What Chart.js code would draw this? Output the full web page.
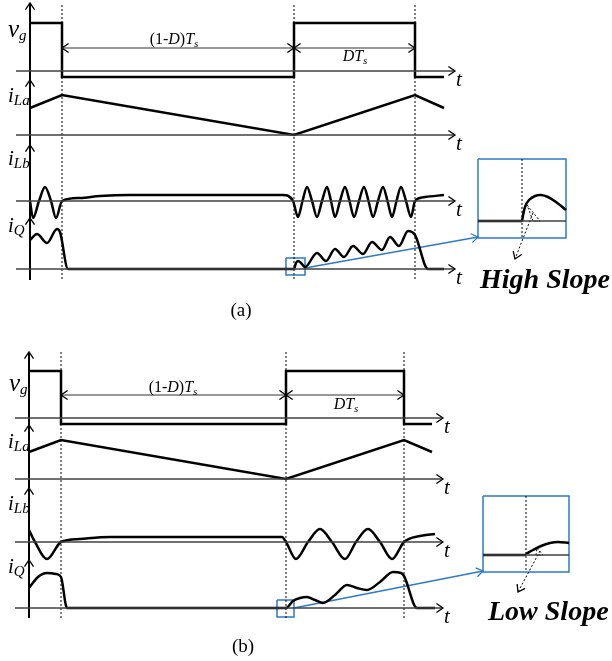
<!DOCTYPE html>
<html>
<head>
<meta charset="utf-8">
<script src="https://cdn.jsdelivr.net/npm/chart.js@4"></script>
<style>
  html, body { margin: 0; padding: 0; background: #fff; }
  #fig { display: block; }
</style>
</head>
<body>
<canvas id="fig" width="612" height="661"></canvas>
<script>
// all points are [t, level] in figure units (x right, y down)

// panel (a) - high slope
const vgA  = [[30,23],[62,23],[62,77],[294,77],[294,23],[415,23],[415,77],[444,77]];
const iLaA = [[30,108],[62,95],[294,135],[415,95],[444,108]];
const iLbA = [[30,201],[33,218],[39,201],[45,187],[51,201],[56,218],[62,201],[80,198],[100,196],[130,195],[283,195],[293,201],
  [298,217],[302.5,201],[307,187],[312,201],[317,217],[322,201],[327,187],[331,201],[335,217],[340,201],[345,187],[349.5,201],
  [354,217],[359,201],[364,187],[368.5,201],[373,217],[378,201],[383,187],[387.5,201],[392,217],[396.5,201],[401,187],[406,201],
  [411,217],[415,201],[425,197],[444,195]];
const iQA  = [[30,240],[37,234],[47,243],[57,229],[60,232],[68,269],[294,269],[296,263],[298,261],[301,263],[305,267],
  [317,253],[326,261],[335,249],[344,257],[353,246],[363,254],[372,242],[382,250],[390,237],[399,246],[408,231],[415,235],[428,269],[444,269]];

// panel (b) - low slope
const vgB  = [[29,371],[61,371],[61,424],[286,424],[286,371],[404,371],[404,424],[432,424]];
const iLaB = [[29,452],[61,440],[286,479],[404,440],[432,452]];
const iLbB = [[29,530],[35,542],[47,559],[61,542],[80,539],[110,537],[282,537],[286,542],[296,559],[308,542],[320,529],[332,542],
  [345,559],[356,542],[368,529],[380,542],[392,559],[404,542],[420,536],[435,534]];
const iQB  = [[29,588],[38,577],[47,573],[56,574],[61,577],[67,608],[286,608],[293,601],[300,598],[307,597],[315,600],[323,603],
  [335,595],[347,585],[357,588],[367,590],[380,582],[393,572],[401,573],[404,576],[417,608],[435,608]];

// zoomed insets
const zoomA = [[522,221],[525,207],[529,200],[535,196],[541,195],[548,197],[556,202],[566,210]];
const zoomB = [[526,554],[533,550],[541,546],[550,543],[558,542],[569,543]];

// axes: baselines and switching instants
const baseA = [71, 135, 201, 269];
const baseB = [418, 479, 542, 608];
const swA = [62, 294, 415];
const swB = [61, 286, 404];

const serif = '"Liberation Serif", "Times New Roman", serif';
const blue = '#2b7bc9';

function line(pts, color, width, extra) {
  return Object.assign({
    data: pts.map(p => ({ x: p[0], y: p[1] })),
    showLine: true, borderColor: color, borderWidth: width,
    pointRadius: 0, fill: false
  }, extra || {});
}

const sets = [];
// horizontal axes
baseA.forEach(y => sets.push(line([[16,y],[455,y]], '#404040', 1.5)));
baseB.forEach(y => sets.push(line([[15,y],[443,y]], '#404040', 1.5)));
// vertical axes
sets.push(line([[30,280],[30,3]], '#000', 2));
sets.push(line([[29,618],[29,352]], '#000', 2));
// switching instants
swA.forEach(x => sets.push(line([[x,5],[x,280]], '#000', 1, { borderDash: [2,2] })));
swB.forEach(x => sets.push(line([[x,352],[x,618]], '#000', 1, { borderDash: [2,2] })));
// dimension lines
sets.push(line([[swA[0],48],[swA[2],48]], '#333', 1.2));
sets.push(line([[swB[0],395],[swB[2],395]], '#333', 1.2));
// waveforms
const wave = { cubicInterpolationMode: 'monotone' };
sets.push(line(vgA, '#000', 2.5));
sets.push(line(iLaA, '#000', 2.5));
sets.push(line(iLbA, '#000', 2.5, wave));
sets.push(line(iQA, '#000', 2.5, wave));
sets.push(line(vgB, '#000', 2.5));
sets.push(line(iLaB, '#000', 2.5));
sets.push(line(iLbB, '#000', 2.5, wave));
sets.push(line(iQB, '#000', 2.5, wave));
// small boxes + leader lines
sets.push(line([[286,258],[305,258],[305,275],[286,275],[286,258]], blue, 1.5));
sets.push(line([[305,268],[478,237]], blue, 1.5));
sets.push(line([[277,600],[294,600],[294,617],[277,617],[277,600]], blue, 1.5));
sets.push(line([[294,608],[483,571]], blue, 1.5));
// inset (a)
sets.push(line([[478,221],[566,221]], '#404040', 1.5));
sets.push(line([[478,221],[522,221]], '#000', 2.5));
sets.push(line([[522,159],[522,238]], '#000', 1, { borderDash: [2,2] }));
sets.push(line(zoomA, '#000', 2.5, { tension: 0.4 }));
sets.push(line([[527,205],[540,221],[533,221],[527,205]], '#000', 1, { borderDash: [2,2] }));
sets.push(line([[533,213],[515,259]], '#000', 1, { borderDash: [2,2] }));
sets.push(line([[478,159],[566,159],[566,238],[478,238],[478,159]], blue, 1.5));
// inset (b)
sets.push(line([[483,555],[569,555]], '#404040', 1.5));
sets.push(line([[483,555],[526,555]], '#000', 2.5));
sets.push(line([[526,496],[526,572]], '#000', 1, { borderDash: [2,2] }));
sets.push(line(zoomB, '#000', 2.5, wave));
sets.push(line([[537,548],[543,555],[536,555],[537,548]], '#000', 1, { borderDash: [2,2] }));
sets.push(line([[540,551],[518,592]], '#000', 1, { borderDash: [2,2] }));
sets.push(line([[483,496],[569,496],[569,572],[483,572],[483,496]], blue, 1.5));

// arrowheads: [fromX, fromY, tipX, tipY, color]
const heads = [];
baseA.forEach(y => heads.push([440, y, 455, y, '#000']));
baseB.forEach(y => heads.push([428, y, 443, y, '#000']));
[3, 80, 145, 218].forEach(y => heads.push([30, y + 15, 30, y, '#000']));
[352, 425, 488, 560].forEach(y => heads.push([29, y + 15, 29, y, '#000']));
heads.push([200, 48, swA[0], 48, '#000'], [200, 48, swA[1], 48, '#000'], [350, 48, swA[1], 48, '#000'], [350, 48, swA[2], 48, '#000']);
heads.push([200, 395, swB[0], 395, '#000'], [200, 395, swB[1], 395, '#000'], [350, 395, swB[1], 395, '#000'], [350, 395, swB[2], 395, '#000']);
heads.push([305, 268, 478, 237, blue], [294, 608, 483, 571, blue]);
heads.push([533, 213, 515, 259, '#000'], [540, 551, 518, 592, '#000']);

// text: [x, y, align, parts[text, style, size, dy]]
const texts = [
  [8, 37, 'left', [['v','italic',25,0],['g','italic',15,3]]],
  [8, 102, 'left', [['i','italic',21,0],['La','italic',15,3]]],
  [8, 165, 'left', [['i','italic',21,0],['Lb','italic',15,3]]],
  [8, 232, 'left', [['i','italic',21,0],['Q','italic',15,3]]],
  [9, 391, 'left', [['v','italic',25,0],['g','italic',15,3]]],
  [8, 448, 'left', [['i','italic',21,0],['La','italic',15,3]]],
  [8, 510, 'left', [['i','italic',21,0],['Lb','italic',15,3]]],
  [8, 573, 'left', [['i','italic',21,0],['Q','italic',15,3]]],
  [174, 44, 'center', [['(1-','',16,0],['D','italic',16,0],[')','',16,0],['T','italic',16,0],['s','italic',11,3]]],
  [355, 61, 'center', [['D','italic',16,0],['T','italic',16,0],['s','italic',11,3]]],
  [173, 392, 'center', [['(1-','',16,0],['D','italic',16,0],[')','',16,0],['T','italic',16,0],['s','italic',11,3]]],
  [346, 409, 'center', [['D','italic',16,0],['T','italic',16,0],['s','italic',11,3]]],
  [241, 316, 'center', [['(a)','',19,0]]],
  [243, 652, 'center', [['(b)','',19,0]]],
  [480, 288, 'left', [['High Slope','bold italic',28,0]]],
  [488, 620, 'left', [['Low Slope','bold italic',28,0]]]
];
baseA.forEach(y => texts.push([456, y + 15, 'left', [['t','italic',21,0]]]));
baseB.forEach(y => texts.push([444, y + 15, 'left', [['t','italic',21,0]]]));

const decor = {
  id: 'decor',
  afterDatasetsDraw(chart) {
    const ctx = chart.ctx, sx = chart.scales.x, sy = chart.scales.y;
    ctx.save();
    ctx.lineWidth = 1.3;
    heads.forEach(([fx, fy, tx, ty, c]) => {
      const x0 = sx.getPixelForValue(fx), y0 = sy.getPixelForValue(fy);
      const x1 = sx.getPixelForValue(tx), y1 = sy.getPixelForValue(ty);
      const a = Math.atan2(y1 - y0, x1 - x0);
      ctx.strokeStyle = c;
      ctx.beginPath();
      ctx.moveTo(x1 - 8 * Math.cos(a - 0.6), y1 - 8 * Math.sin(a - 0.6));
      ctx.lineTo(x1, y1);
      ctx.lineTo(x1 - 8 * Math.cos(a + 0.6), y1 - 8 * Math.sin(a + 0.6));
      ctx.stroke();
    });
    ctx.fillStyle = '#000';
    ctx.textBaseline = 'alphabetic';
    ctx.textAlign = 'left';
    texts.forEach(([x, y, align, parts]) => {
      let px = sx.getPixelForValue(x);
      const py = sy.getPixelForValue(y);
      const font = p => (p[1] ? p[1] + ' ' : '') + p[2] + 'px ' + serif;
      if (align === 'center') {
        let w = 0;
        parts.forEach(p => { ctx.font = font(p); w += ctx.measureText(p[0]).width; });
        px -= w / 2;
      }
      parts.forEach(p => {
        ctx.font = font(p);
        ctx.fillText(p[0], px, py + p[3]);
        px += ctx.measureText(p[0]).width;
      });
    });
    ctx.restore();
  }
};

new Chart(document.getElementById('fig'), {
  type: 'scatter',
  data: { datasets: sets },
  options: {
    responsive: false,
    animation: false,
    devicePixelRatio: 1,
    layout: { padding: 0 },
    plugins: { legend: { display: false }, tooltip: { enabled: false } },
    scales: {
      x: { type: 'linear', min: 0, max: 612, display: false },
      y: { type: 'linear', min: 0, max: 661, reverse: true, display: false }
    }
  },
  plugins: [decor]
});
</script>
</body>
</html>
